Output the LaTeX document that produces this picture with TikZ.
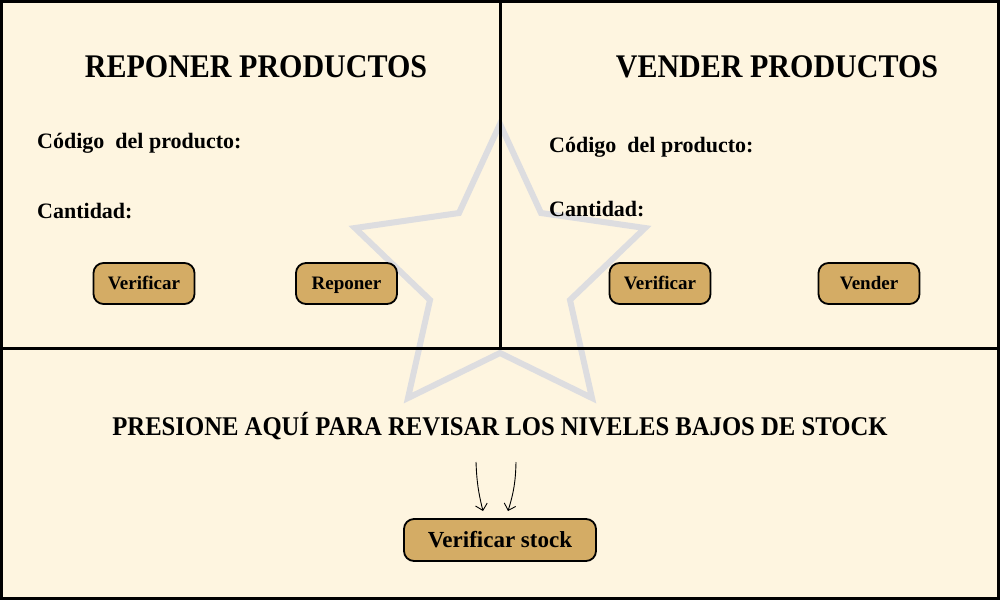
\documentclass[tikz,border=0pt]{standalone}
\usepackage{fontspec}
\setmainfont{Liberation Serif}
\usetikzlibrary{arrows.meta}
\definecolor{bgcream}{RGB}{254,245,224}
\definecolor{btnfill}{RGB}{212,172,101}
\definecolor{stargrey}{RGB}{221,221,224}
\tikzset{
  title/.style={anchor=base, font=\bfseries\fontsize{33}{36}\selectfont, inner sep=0},
  label/.style={anchor=base west, font=\bfseries\fontsize{22}{24}\selectfont, inner sep=0},
  btn/.style={draw=black, line width=1.8pt, fill=btnfill, rounded corners=10pt,
    minimum width=101pt, minimum height=41pt, inner sep=0,
    text height=12.6pt, text depth=0pt,
    font=\bfseries\fontsize{19}{21}\selectfont},
  banner/.style={anchor=base, font=\bfseries\fontsize{27}{30}\selectfont, inner sep=0},
  frame/.style={line width=3pt, draw=black},
  hint/.style={line width=0.9pt, -{Straight Barb[length=6pt,width=12pt]}}
}
\begin{document}
\begin{tikzpicture}[x=1pt,y=-1pt]
\useasboundingbox (0,0) rectangle (1000,600);
\fill[bgcream] (0,0) rectangle (1000,600);
% watermark star
\draw[stargrey, line width=6pt, line join=miter]
  (500,124) -- (541,213) -- (645,228) -- (570,300) -- (592,398)
  -- (500,353) -- (408,398) -- (430,300) -- (355,228) -- (459,213) -- cycle;
% frame and dividers
\draw[frame] (1.5,1.5) rectangle (998.5,598.5);
\draw[frame] (500,0) -- (500,348);
\draw[frame] (0,348) -- (1000,348);
% titles
\node[title] (t1) at (256,77) {\scalebox{0.91}[1]{REPONER PRODUCTOS}};
\node[title] (t2) at (777,77) {\scalebox{0.91}[1]{VENDER PRODUCTOS}};
% labels
\node[label] (c1) at (37,148) {Código\ \ del producto:};
\node[label] (q1) at (37,218) {Cantidad:};
\node[label] (c2) at (549,152) {Código\ \ del producto:};
\node[label] (q2) at (549,216) {Cantidad:};
% buttons
\node[btn] (v1) at (144,283.5) {Verificar};
\node[btn] (r1) at (346.5,283.5) {Reponer};
\node[btn] (v2) at (660,283.5) {Verificar};
\node[btn] (s2) at (869,283.5) {Vender};
% bottom
\node[banner] (msg) at (500,435) {\scalebox{0.914}[1]{PRESIONE AQUÍ PARA REVISAR LOS NIVELES BAJOS DE STOCK}};
\node[btn, minimum width=192pt, minimum height=42pt, text height=15.2pt,
  font=\bfseries\fontsize{23}{25}\selectfont] (vs) at (500,540) {Verificar stock};
\coordinate (a1s) at (476,462);
\coordinate (a1e) at (483,511);
\coordinate (a2s) at (516,462);
\coordinate (a2e) at (508,511);
\draw[hint] (a1s) to[bend right=6] (a1e);
\draw[hint] (a2s) to[bend left=8] (a2e);
\end{tikzpicture}
\end{document}
